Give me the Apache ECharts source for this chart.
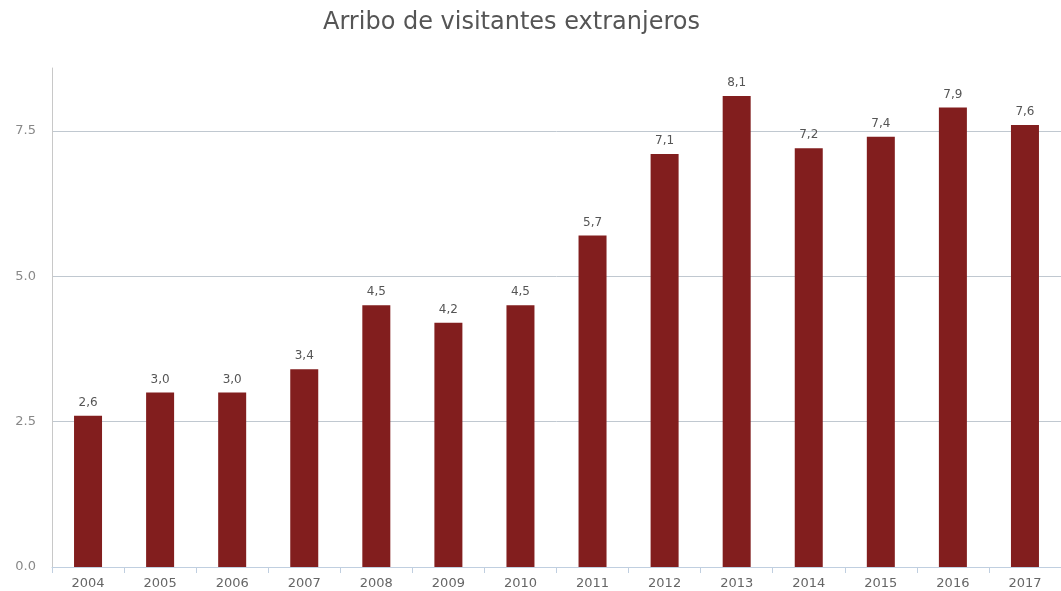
<!DOCTYPE html>
<html>
<head>
<meta charset="utf-8">
<script src="https://cdn.jsdelivr.net/npm/echarts@6/dist/echarts.min.js"></script>
<style>html,body{margin:0;padding:0;background:#fff;}#c{width:1061px;height:591px;}</style>
</head>
<body>
<div id="c"></div>
<script>
const years = ['2004','2005','2006','2007','2008','2009','2010','2011','2012','2013','2014','2015','2016','2017'];
const visitors = [2.6, 3.0, 3.0, 3.4, 4.5, 4.2, 4.5, 5.7, 7.1, 8.1, 7.2, 7.4, 7.9, 7.6];
const titleText = 'Arribo de visitantes extranjeros';

const chart = echarts.init(document.getElementById('c'));
chart.setOption({
  animation: false,
  backgroundColor: '#fff',
  textStyle: { fontFamily: 'DejaVu Sans' },
  title: {
    text: titleText,
    left: 318, top: 6,
    textStyle: { fontFamily: 'DejaVu Sans', fontSize: 24, fontWeight: 'normal', color: '#555' }
  },
  grid: { left: 52, right: -6, top: 68, bottom: 24, containLabel: false },
  xAxis: {
    type: 'category',
    data: years,
    axisLine: { lineStyle: { color: '#c0cfe0' } },
    axisTick: { show: true, alignWithLabel: false, length: 6, lineStyle: { color: '#c0cfe0' } },
    axisLabel: { color: '#666', fontSize: 13, margin: 10, fontFamily: 'DejaVu Sans' }
  },
  yAxis: {
    type: 'value',
    min: 0, max: 8.58, interval: 2.5,
    axisLine: { show: true, lineStyle: { color: '#c8c8c8' } },
    axisTick: { show: false },
    axisLabel: { color: '#888', fontSize: 13, margin: 16, showMaxLabel: false,
      formatter: v => v.toFixed(1), fontFamily: 'DejaVu Sans' },
    splitLine: { show: true, showMaxLine: false, lineStyle: { color: '#c0c8d0' } }
  },
  series: [{
    type: 'bar',
    data: visitors,
    barWidth: 28,
    itemStyle: { color: '#821e1e' },
    label: {
      show: true, position: 'top', distance: 7,
      color: '#555', fontSize: 12, fontFamily: 'DejaVu Sans',
      formatter: p => p.value.toFixed(1).replace('.', ',')
    }
  }]
});
</script>
</body>
</html>
